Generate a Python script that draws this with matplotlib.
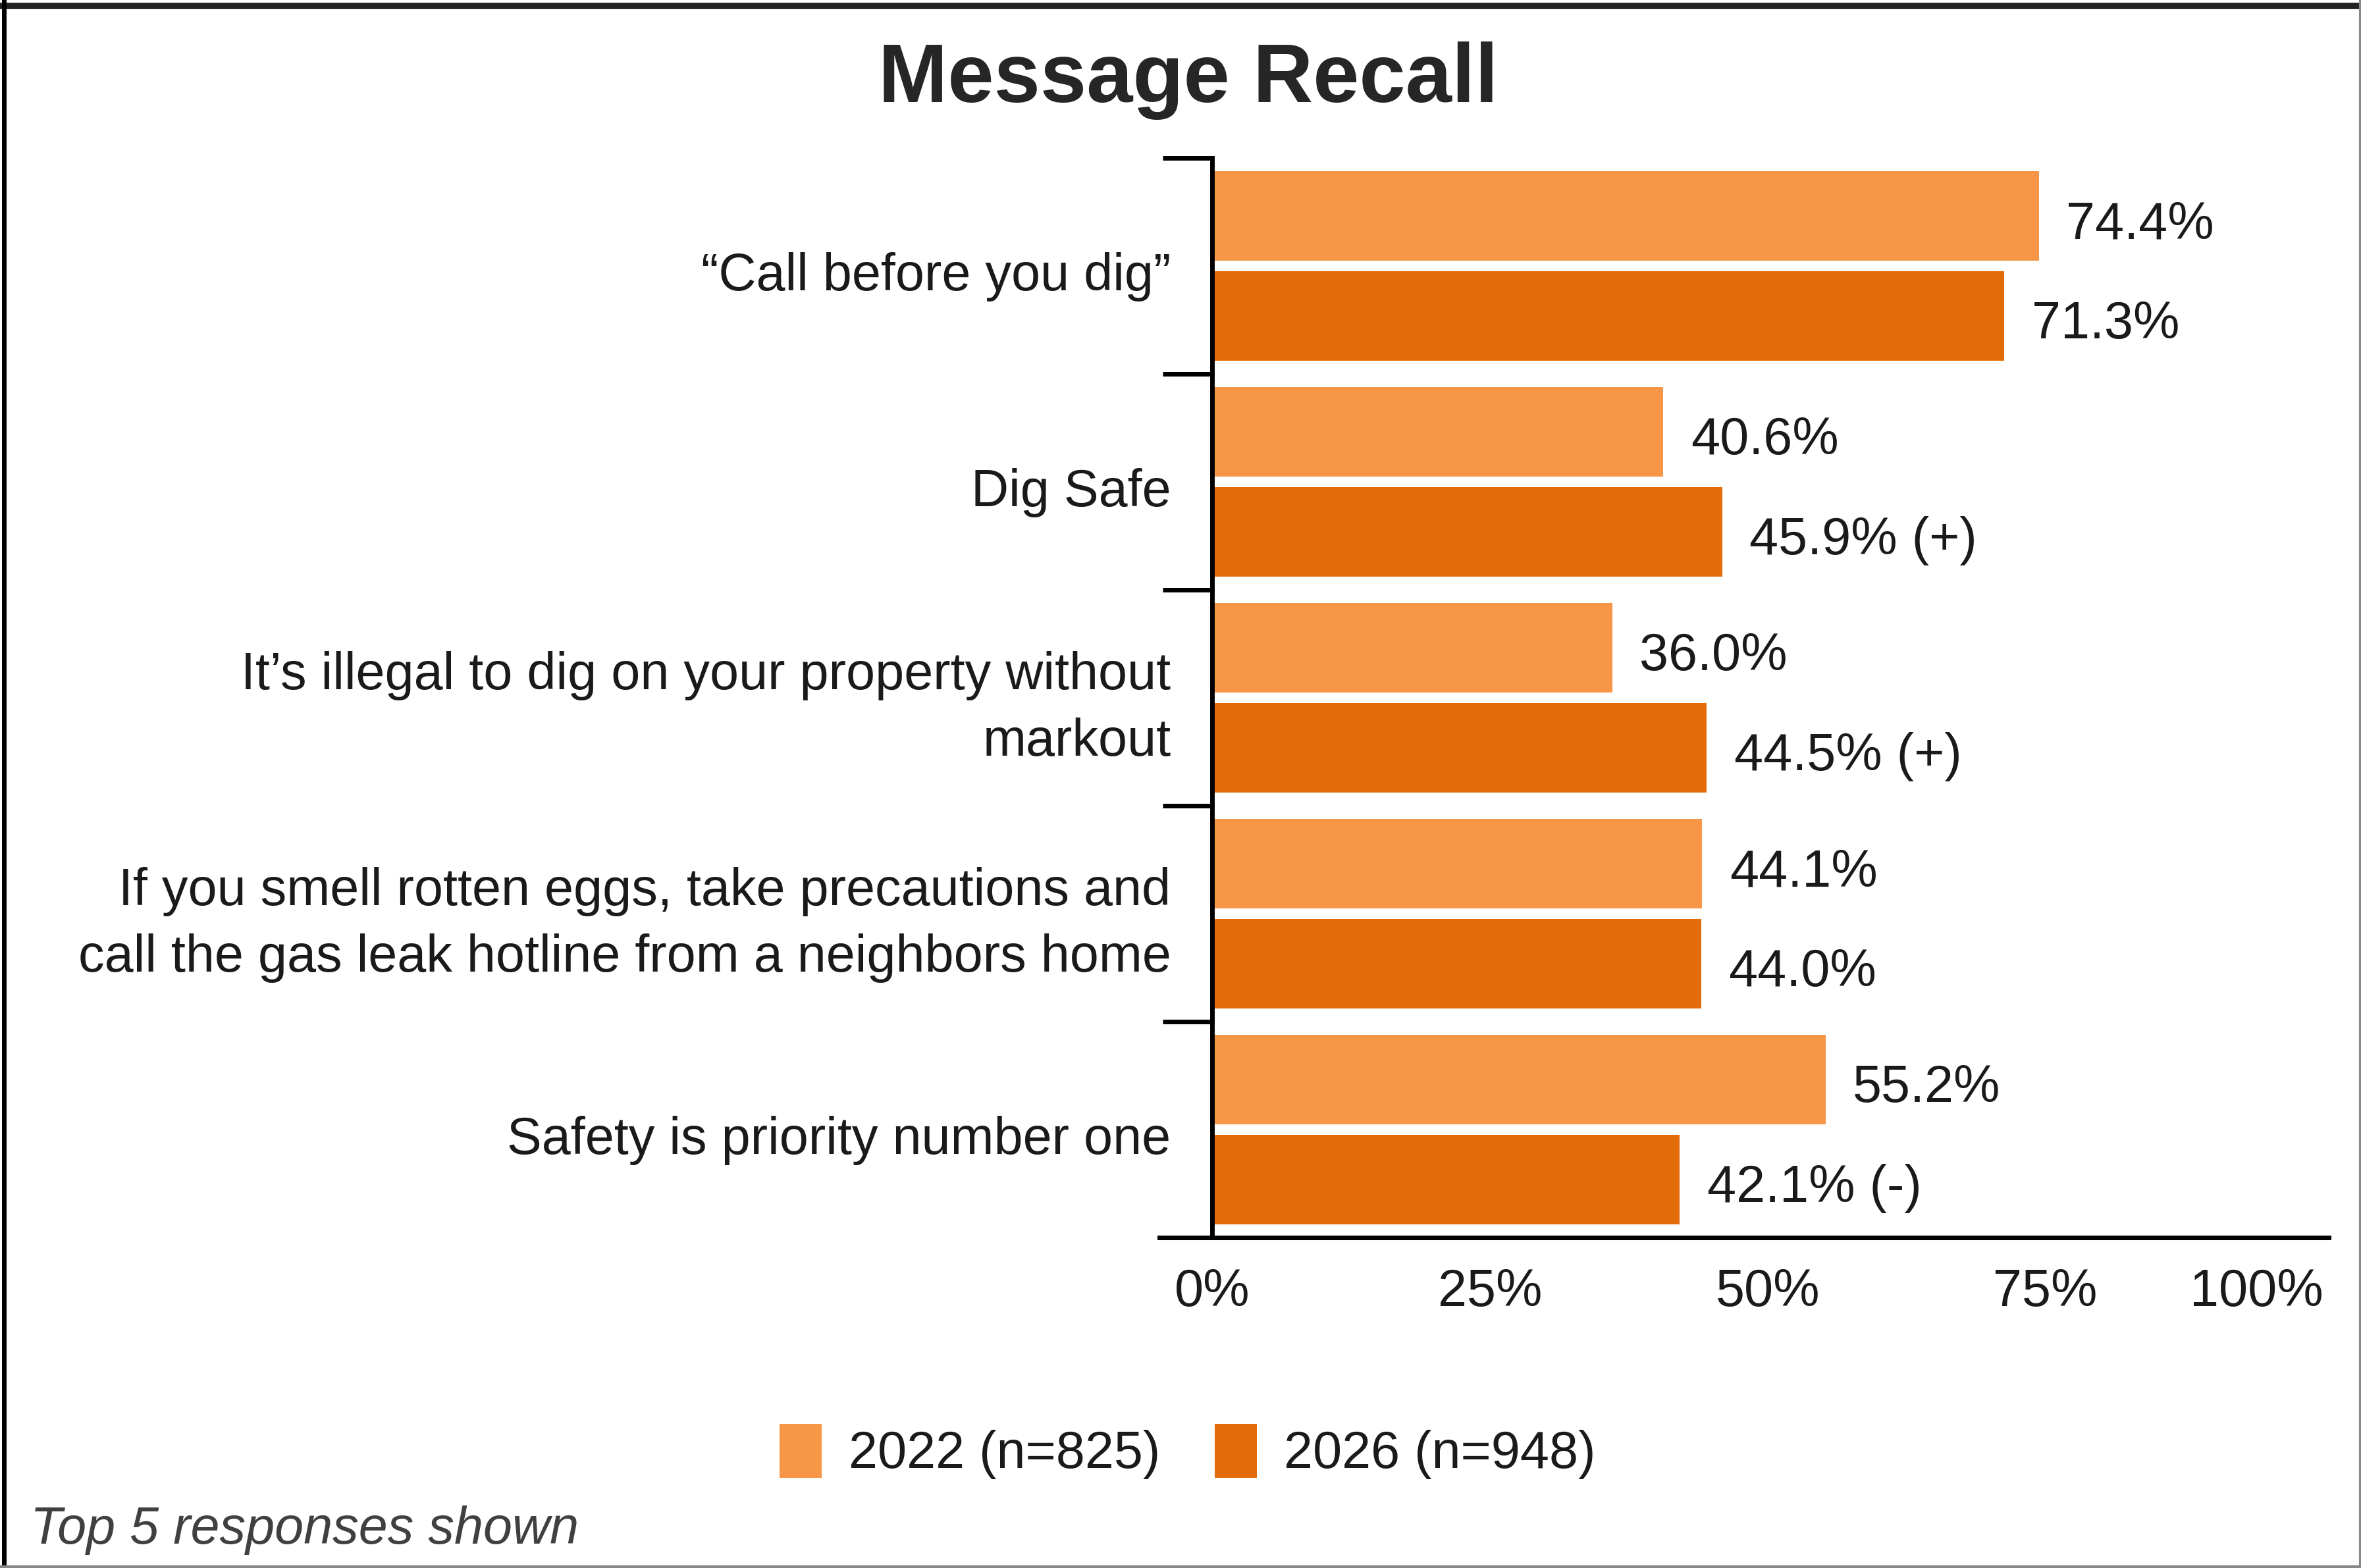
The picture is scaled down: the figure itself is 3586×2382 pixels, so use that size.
import matplotlib
matplotlib.use("Agg")
import matplotlib.pyplot as plt
from matplotlib.patches import Patch
from matplotlib.lines import Line2D
import numpy as np

plt.rcParams['font.family'] = ['Liberation Sans', 'DejaVu Sans']

categories = [
    "\u201cCall before you dig\u201d",
    "Dig Safe",
    "It\u2019s illegal to dig on your property without\nmarkout",
    "If you smell rotten eggs, take precautions and\ncall the gas leak hotline from a neighbors home",
    "Safety is priority number one",
]
values_2022 = [74.4, 40.6, 36.0, 44.1, 55.2]
values_2026 = [71.3, 45.9, 44.5, 44.0, 42.1]
marks_2026 = ["", " (+)", " (+)", "", " (-)"]
series_labels = ["2022 (n=825)", "2026 (n=948)"]
xticks = [0, 25, 50, 75, 100]
xtick_labels = ["0%", "25%", "50%", "75%", "100%"]

c2022 = "#F79646"
c2026 = "#E36C09"
FS = 57
TXT = "#1a1a1a"

W, H = 3587, 2382
fig = plt.figure(figsize=(W / 100, H / 100), dpi=100)
fig.patch.set_facecolor("white")

ax = fig.add_axes([1761 / W, 1 - 1880 / H, (3537 - 1761) / W, (1880 - 240) / H])
ax.set_xlim(-4.74, 100.5)
ax.set_ylim(5, 0)

n = len(categories)
idx = np.arange(n)
bh = 0.415
y1 = idx + 0.268
y2 = idx + 0.732
ax.barh(y1, values_2022, height=bh, color=c2022, edgecolor="none", zorder=2)
ax.barh(y2, values_2026, height=bh, color=c2026, edgecolor="none", zorder=2)

for yy, v in zip(y1, values_2022):
    ax.annotate(f"{v:.1f}%", xy=(v, yy), xytext=(30, -10), textcoords="offset points",
                va="center", ha="left", fontsize=FS, color=TXT)
for yy, v, m in zip(y2, values_2026, marks_2026):
    ax.annotate(f"{v:.1f}%{m}", xy=(v, yy), xytext=(30, -10), textcoords="offset points",
                va="center", ha="left", fontsize=FS, color=TXT)

# category labels
for i, cat in enumerate(categories):
    ax.annotate(cat, xy=(0, i + 0.5), xytext=(-45, -12), textcoords="offset points",
                va="center", ha="right", multialignment="right", fontsize=FS,
                color=TXT, linespacing=1.45, annotation_clip=False)

for s in ["top", "right"]:
    ax.spines[s].set_visible(False)
ax.spines["left"].set_position(("data", 0))
ax.spines["left"].set_linewidth(5)
ax.spines["bottom"].set_linewidth(5)
ax.spines["left"].set_color("black")
ax.spines["bottom"].set_color("black")

ax.set_yticks(np.arange(0, n + 1))
ax.set_yticklabels([])
ax.tick_params(axis="y", which="major", length=54, width=5, direction="out", color="black")

ax.set_xticks(xticks)
ax.set_xticklabels(xtick_labels, fontsize=FS, color=TXT)
ax.tick_params(axis="x", length=0, pad=33)
lbls = ax.get_xticklabels()
lbls[-1].set_ha("right")

fig.text(1805 / W, 1 - 123 / H, "Message Recall", ha="center", va="center",
         fontsize=91, fontweight="bold", color="#262626")

handles = [Patch(facecolor=c2022, edgecolor="none"), Patch(facecolor=c2026, edgecolor="none")]
fig.legend(handles, series_labels, loc="center", bbox_to_anchor=(1804 / W, 1 - 2205 / H),
           ncol=2, frameon=False, fontsize=FS, handlelength=0.81, handleheight=1.22,
           handletextpad=0.52, columnspacing=1.04, borderpad=0, labelcolor=TXT)

fig.text(46 / W, 1 - 2325 / H, "Top 5 responses shown", ha="left", va="center",
         fontsize=FS, fontstyle="italic", color="#404040")

# outer frame
fig.add_artist(Line2D([0, 1], [1 - 9 / H, 1 - 9 / H], transform=fig.transFigure, color="#222222", lw=7))
fig.add_artist(Line2D([6 / W, 6 / W], [0, 1], transform=fig.transFigure, color="black", lw=5))
fig.add_artist(Line2D([1 - 2 / W, 1 - 2 / W], [0, 1], transform=fig.transFigure, color="#888888", lw=3))
fig.add_artist(Line2D([0, 1], [2 / H, 2 / H], transform=fig.transFigure, color="#888888", lw=3))

fig.savefig("out.png", dpi=100, facecolor="white")
